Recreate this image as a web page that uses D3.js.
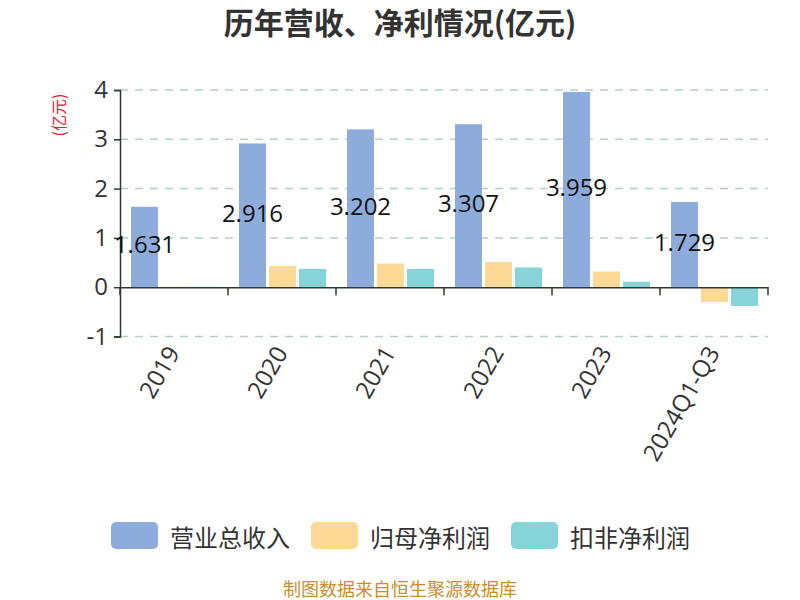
<!DOCTYPE html>
<html><head><meta charset="utf-8">
<script src="https://cdn.jsdelivr.net/npm/d3@7"></script>
<style>body{margin:0;background:#fff;}svg{font-family:"Noto Sans CJK SC","Noto Sans",sans-serif;}</style>
</head><body>
<svg id="c" width="800" height="600"></svg>
<script>
const categories = ["2019","2020","2021","2022","2023","2024Q1-Q3"];
const seriesNames = ["营业总收入","归母净利润","扣非净利润"];
const revenue = [1.631, 2.916, 3.202, 3.307, 3.959, 1.729];
const netProfit = [0.012, 0.43, 0.48, 0.51, 0.32, -0.30];
const netProfitExcl = [0.008, 0.37, 0.37, 0.40, 0.11, -0.38];
const yTicks = [-1, 0, 1, 2, 3, 4];
const colors = ["#8eacdb", "#fdd998", "#86d4d8"];

const svg = d3.select("#c");
const pLeft = 120, pRight = 768, pTop = 90, pBottom = 336.5;
const numFont = "'Open Sans','Noto Sans',sans-serif";
const x0 = d3.scaleBand().domain(categories).range([pLeft, pRight]);
const x1 = d3.scaleBand().domain(seriesNames).range([11, 98]).paddingInner(0.1);
const y = d3.scaleLinear().domain([-1, 4]).range([pBottom, pTop]);
const seriesData = [revenue, netProfit, netProfitExcl];

// title
svg.append("text").attr("x", 400).attr("y", 34).attr("text-anchor", "middle")
  .attr("font-size", 30).attr("font-weight", "bold").attr("fill", "#333").text("历年营收、净利情况(亿元)");

// grid
svg.append("g").selectAll("line").data(yTicks.filter(d => d !== 0)).join("line")
  .attr("x1", pLeft).attr("x2", pRight).attr("y1", d => y(d)).attr("y2", d => y(d))
  .attr("stroke", "#b7cfbf").attr("stroke-width", 1.5).attr("stroke-dasharray", "8,7");

// bars
seriesData.forEach((vals, si) => {
  svg.append("g").selectAll("rect").data(vals).join("rect")
    .attr("x", (d, i) => x0(categories[i]) + x1(seriesNames[si]))
    .attr("width", x1.bandwidth())
    .attr("y", d => y(Math.max(0, d)))
    .attr("height", d => Math.abs(y(d) - y(0)))
    .attr("fill", colors[si]);
});

// y axis
const yAxis = svg.append("g").attr("transform", `translate(${pLeft},0)`)
  .call(d3.axisLeft(y).tickValues(yTicks).tickSize(6).tickPadding(6).tickFormat(d => String(d)));
yAxis.selectAll("path,line").attr("stroke", "#2d3b2d").attr("stroke-width", 1.5);
yAxis.selectAll("text").attr("font-size", 24).attr("fill", "#333").attr("font-family", numFont);

// x axis at zero
const xAxis = svg.append("g").attr("transform", `translate(0,${y(0)})`)
  .call(d3.axisBottom(x0).tickSizeOuter(0).tickSize(0).tickFormat(""));
xAxis.select("path").attr("stroke", "#2d3b2d").attr("stroke-width", 1.5);
svg.append("g").selectAll("line").data(d3.range(categories.length + 1)).join("line")
  .attr("x1", i => pLeft + i * x0.step()).attr("x2", i => pLeft + i * x0.step())
  .attr("y1", y(0)).attr("y2", y(0) + 8).attr("stroke", "#2d3b2d").attr("stroke-width", 1.5);

// x labels
svg.append("g").selectAll("text").data(categories).join("text")
  .attr("transform", d => `translate(${x0(d) + x0.bandwidth() / 2 + 1},${pBottom + 13}) rotate(-60)`)
  .attr("text-anchor", "end").attr("dominant-baseline", "middle")
  .attr("font-size", 24).attr("fill", "#333").attr("font-family", numFont).text(d => d);

// value labels
svg.append("g").selectAll("text").data(revenue).join("text")
  .attr("x", (d, i) => x0(categories[i]) + x1(seriesNames[0]) + x1.bandwidth() / 2)
  .attr("y", d => (y(d) + y(0)) / 2 - 3)
  .attr("text-anchor", "middle").attr("dominant-baseline", "central")
  .attr("font-size", 24).attr("fill", "#111").attr("font-family", numFont)
  .text(d => d3.format(".3f")(d));

// unit label
svg.append("text").attr("transform", "translate(65,115) rotate(-90)")
  .attr("text-anchor", "middle").attr("font-size", 16).attr("fill", "#e8202a").text("(亿元)");

// legend
const lg = svg.append("g").selectAll("g").data(seriesNames).join("g")
  .attr("transform", (d, i) => `translate(${111 + i * 200},522)`);
lg.append("rect").attr("width", 47).attr("height", 27).attr("rx", 5).attr("fill", (d, i) => colors[i]);
lg.append("text").attr("x", 59).attr("y", 14).attr("dominant-baseline", "central")
  .attr("font-size", 24).attr("fill", "#333").text(d => d);

// footer
svg.append("text").attr("x", 400).attr("y", 596).attr("text-anchor", "middle")
  .attr("font-size", 18).attr("fill", "#c8902a").text("制图数据来自恒生聚源数据库");
</script>
</body></html>
